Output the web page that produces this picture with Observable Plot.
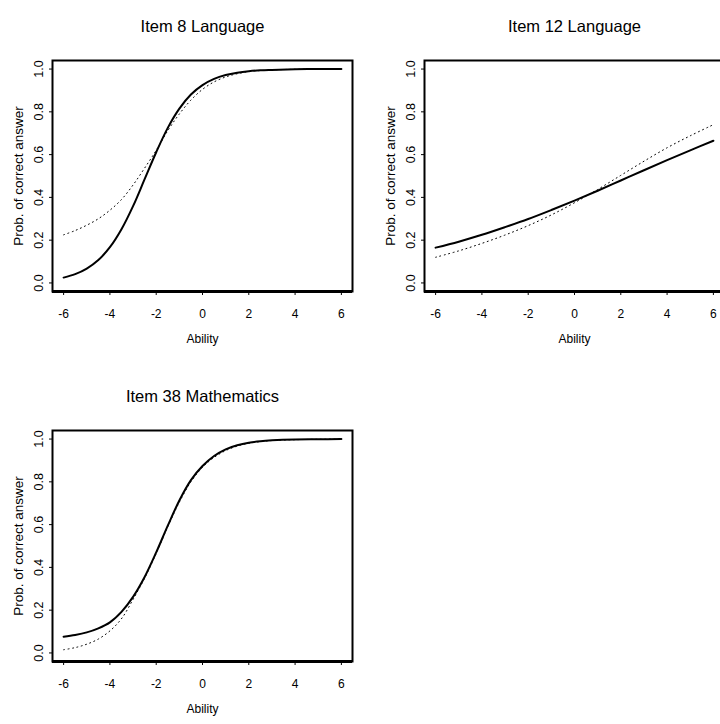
<!DOCTYPE html>
<html>
<head>
<meta charset="utf-8">
<script src="https://cdn.jsdelivr.net/npm/d3@7"></script>
<script src="https://cdn.jsdelivr.net/npm/@observablehq/plot@0.6"></script>
<style>
  html, body { margin: 0; padding: 0; background: #fff; overflow: hidden; }
  #wrap { position: relative; width: 720px; height: 724px; overflow: hidden; background: #fff; }
  .panel { position: absolute; width: 360px; height: 362px; }
  .panel svg { max-width: none !important; }
</style>
</head>
<body>
<div id="wrap"></div>
<script>
// ---- Data ----
const titles = ["Item 8 Language", "Item 12 Language", "Item 38 Mathematics"];
const xLabel = "Ability";
const yLabel = "Prob. of correct answer";
const xTicks = [-6, -4, -2, 0, 2, 4, 6];
const yTicks = [0, 0.2, 0.4, 0.6, 0.8, 1.0];

const abilityA = [-6, -5.5, -5, -4.5, -4, -3.5, -3, -2.5, -2, -1.5, -1, -0.5, 0, 0.5, 1, 1.5, 2, 2.5, 3, 4, 5, 6];
const item8Solid  = [0.025, 0.041, 0.067, 0.107, 0.167, 0.251, 0.359, 0.485, 0.611, 0.725, 0.815, 0.881, 0.925, 0.954, 0.972, 0.983, 0.990, 0.994, 0.996, 0.999, 1.0, 1.0];
const item8Dotted = [0.225, 0.245, 0.270, 0.300, 0.340, 0.390, 0.458, 0.537, 0.620, 0.712, 0.790, 0.855, 0.905, 0.940, 0.963, 0.978, 0.988, 0.993, 0.996, 0.999, 1.0, 1.0];

const abilityB = [-6, -5, -4, -3, -2, -1, 0, 1, 2, 3, 4, 5, 6];
const item12Solid  = [0.165, 0.193, 0.225, 0.261, 0.299, 0.341, 0.385, 0.431, 0.479, 0.527, 0.574, 0.620, 0.665];
const item12Dotted = [0.120, 0.150, 0.185, 0.224, 0.268, 0.318, 0.375, 0.437, 0.503, 0.569, 0.632, 0.688, 0.740];

const item38Solid  = [0.076, 0.084, 0.096, 0.115, 0.143, 0.192, 0.262, 0.355, 0.470, 0.595, 0.713, 0.808, 0.874, 0.921, 0.952, 0.971, 0.983, 0.990, 0.994, 0.998, 0.999, 1.0];
const item38Dotted = [0.015, 0.025, 0.041, 0.065, 0.103, 0.160, 0.250, 0.350, 0.465, 0.590, 0.705, 0.800, 0.868, 0.914, 0.946, 0.967, 0.980, 0.988, 0.993, 0.997, 0.999, 1.0];

// ---- Panel builder ----
const FONT = "'Liberation Sans', Arial, Helvetica, sans-serif";

function panel(title, xs, solid, dotted, left, top) {
  const chart = Plot.plot({
    width: 360,
    height: 362,
    marginLeft: 52,
    marginRight: 8,
    marginTop: 60,
    marginBottom: 71,
    x: { domain: [-6.48, 6.48], ticks: xTicks, tickSize: 4, tickFormat: () => "", label: null },
    y: { domain: [-0.04, 1.04], ticks: yTicks, tickSize: 3, tickFormat: () => "", label: null },
    style: { fontFamily: FONT, fontSize: "12px", background: "white", color: "black", overflow: "visible", maxWidth: "none" },
    marks: [
      Plot.frame({ stroke: "black", strokeWidth: 2 }),
      Plot.ruleY([-0.04], { stroke: "black", strokeWidth: 3 }),
      Plot.line(dotted, { x: (d, i) => xs[i], y: d => d, curve: "catmull-rom", stroke: "black", strokeWidth: 1, strokeDasharray: "1,3.5" }),
      Plot.line(solid, { x: (d, i) => xs[i], y: d => d, curve: "catmull-rom", stroke: "black", strokeWidth: 2 }),
      // x tick labels
      Plot.text(xTicks, { x: d => d, frameAnchor: "bottom", dy: 26, text: d => String(d), fontSize: 12 }),
      // y tick labels (rotated, R style)
      Plot.text(yTicks, { y: d => d, frameAnchor: "left", dx: -14, rotate: -90, textAnchor: "middle", text: d => d.toFixed(1), fontSize: 12.5 }),
      // titles / axis labels
      Plot.text([title], { frameAnchor: "top", dy: -40, text: d => d, fontSize: 16.5 }),
      Plot.text([xLabel], { frameAnchor: "bottom", dy: 51, text: d => d, fontSize: 12 }),
      Plot.text([yLabel], { frameAnchor: "left", dx: -34, rotate: -90, textAnchor: "middle", text: d => d, fontSize: 13.5 })
    ]
  });
  const div = document.createElement("div");
  div.className = "panel";
  div.style.left = left + "px";
  div.style.top = top + "px";
  div.appendChild(chart);
  document.getElementById("wrap").appendChild(div);
}

panel(titles[0], abilityA, item8Solid, item8Dotted, 0, 0);
panel(titles[1], abilityB, item12Solid, item12Dotted, 372, 0);
panel(titles[2], abilityA, item38Solid, item38Dotted, 0, 370);
</script>
</body>
</html>
